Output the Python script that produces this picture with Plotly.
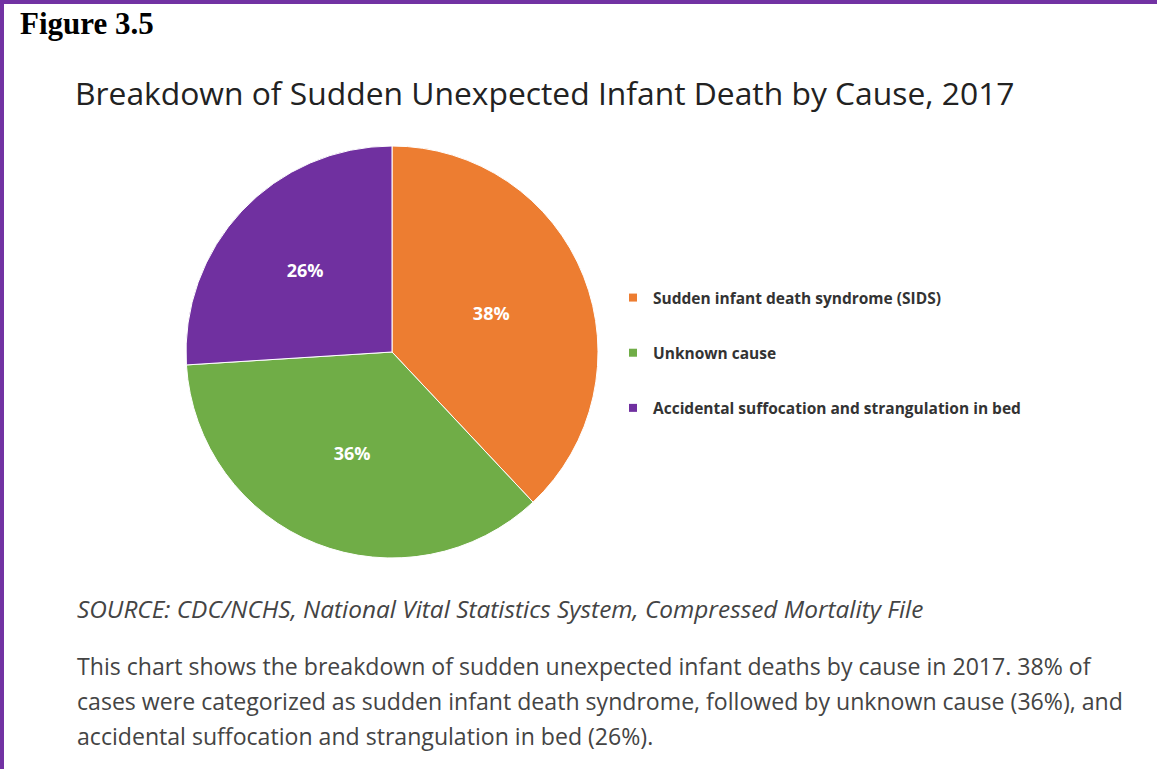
import plotly.graph_objects as go

W, H = 1157, 769

categories = ["Sudden infant death syndrome (SIDS)", "Unknown cause",
              "Accidental suffocation and strangulation in bed"]
values = [38, 36, 26]
colors = ["#ED7D31", "#70AD47", "#7030A0"]

title_text = "Breakdown of Sudden Unexpected Infant Death by Cause, 2017"
figure_label = "Figure 3.5"
source_text = "SOURCE: CDC/NCHS, National Vital Statistics System, Compressed Mortality File"
description_lines = [
    "This chart shows the breakdown of sudden unexpected infant deaths by cause in 2017. 38% of",
    "cases were categorized as sudden infant death syndrome, followed by unknown cause (36%), and",
    "accidental suffocation and strangulation in bed (26%).",
]

cx, cy, r = 392, 352, 206

fig = go.Figure()
fig.add_trace(go.Pie(
    labels=categories, values=values, sort=False, direction="clockwise", rotation=0,
    marker=dict(colors=colors, line=dict(color="white", width=1)),
    textinfo="percent", textposition="inside", insidetextorientation="horizontal",
    textfont=dict(family="Open Sans", size=18, color="white", weight="bold"),
    showlegend=False, hoverinfo="label+percent",
    domain=dict(x=[(cx - r) / W, (cx + r) / W], y=[(H - cy - r) / H, (H - cy + r) / H]),
))
for i, (c, col) in enumerate(zip(categories, colors)):
    fig.add_trace(go.Scatter(
        x=[None], y=[None], mode="markers", name=c, legendgroup=f"g{i}",
        marker=dict(symbol="square", size=8, color=col),
    ))

annotations = [
    dict(text=figure_label, x=18 / W, y=1 - 4 / H, xref="paper", yref="paper",
         xanchor="left", yanchor="top", showarrow=False,
         font=dict(family="Liberation Serif", size=31, color="black", weight="bold")),
    dict(text=title_text, x=73 / W, y=1 - 69 / H, xref="paper", yref="paper",
         xanchor="left", yanchor="top", showarrow=False,
         font=dict(family="Open Sans", size=31.8, color="#222222")),
    dict(text=source_text, x=75 / W, y=1 - 590 / H, xref="paper", yref="paper",
         xanchor="left", yanchor="top", showarrow=False,
         font=dict(family="Open Sans", size=24.4, color="#444444", style="italic")),
]
for k, line in enumerate(description_lines):
    annotations.append(dict(text=line, x=75 / W, y=1 - (648 + 35 * k) / H, xref="paper", yref="paper",
                            xanchor="left", yanchor="top", showarrow=False,
                            font=dict(family="Open Sans", size=23.1, color="#444444")))

fig.update_layout(
    width=W, height=H, margin=dict(l=0, r=0, t=0, b=0),
    paper_bgcolor="white", plot_bgcolor="white",
    xaxis=dict(visible=False), yaxis=dict(visible=False),
    annotations=annotations,
    legend=dict(x=613 / W, y=1 - 281 / H, xanchor="left", yanchor="top",
                tracegroupgap=32, itemclick=False,
                font=dict(family="Open Sans", size=15.5, color="#333333", weight="bold"),
                bgcolor="rgba(0,0,0,0)"),
    shapes=[
        dict(type="rect", xref="paper", yref="paper", x0=0, x1=1, y0=1 - 4 / H, y1=1,
             fillcolor="#7232A3", line=dict(width=0), layer="above"),
        dict(type="rect", xref="paper", yref="paper", x0=0, x1=4 / W, y0=0, y1=1,
             fillcolor="#7232A3", line=dict(width=0), layer="above"),
    ],
)

fig.write_html("out.html", config={"displayModeBar": False},
               post_script="document.body.style.margin='0';")
